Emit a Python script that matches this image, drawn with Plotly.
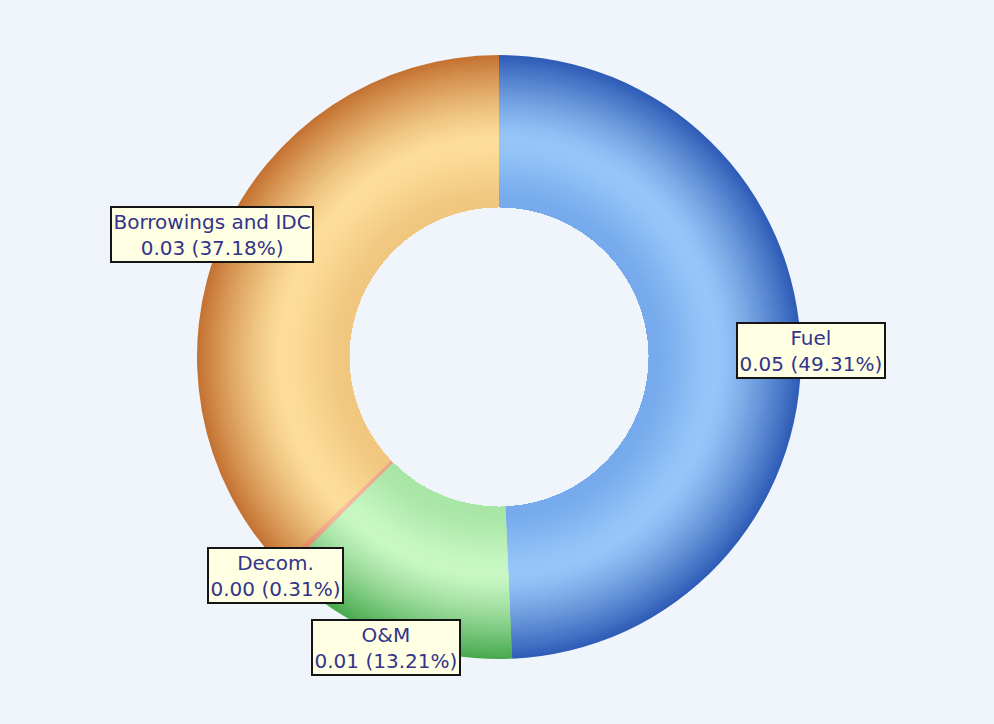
import numpy as np
import plotly.graph_objects as go

# ---- data -------------------------------------------------------------
categories = ["Fuel", "O&M", "Decom.", "Borrowings and IDC"]
cost_values = [0.05, 0.01, 0.00, 0.03]
cost_shares = [49.31, 13.21, 0.31, 37.18]

# ring shading per category: inner edge, brightest band, outer edge
inner_colors = ["#76AAEC", "#A8E6A6", "#EBA386", "#F1C77F"]
peak_colors = ["#96C6F8", "#C8F7C4", "#F6BCA0", "#FCDD99"]
outer_colors = ["#2E5BB6", "#47A84D", "#D2603F", "#C47131"]

# ---- geometry (pixels) ------------------------------------------------
W, H = 994, 724
CX, CY = 499, 357
R_OUT, R_IN = 302, 150
LABEL_R = 312
N_BANDS = 60
PEAK_T = 0.45


def hex_rgb(h):
    h = h.lstrip("#")
    return np.array([int(h[i:i + 2], 16) for i in (0, 2, 4)], dtype=float)


def mix(a, b, f):
    c = hex_rgb(a) * (1 - f) + hex_rgb(b) * f
    return "rgb(%d,%d,%d)" % tuple(np.clip(np.round(c), 0, 255))


def shade(i, t):
    if t <= PEAK_T:
        s = t / PEAK_T
        s = s * s * (3 - 2 * s)
        return mix(inner_colors[i], peak_colors[i], s)
    s = (t - PEAK_T) / (1 - PEAK_T)
    return mix(peak_colors[i], outer_colors[i], s ** 1.3)


fig = go.Figure()

# concentric bands, outermost first, each painted over the inner part of the
# previous one to give the ring its cylindrical shading
radii = np.linspace(R_OUT, R_IN, N_BANDS + 1)
for k in range(N_BANDS):
    r_k = radii[k]
    t_mid = ((radii[k] + radii[k + 1]) / 2 - R_IN) / (R_OUT - R_IN)
    cols = [shade(i, t_mid) for i in range(len(categories))]
    fig.add_trace(go.Pie(
        labels=categories,
        values=cost_shares,
        customdata=cost_values,
        sort=False,
        direction="clockwise",
        rotation=0,
        hole=R_IN / r_k,
        domain=dict(x=[(CX - r_k) / W, (CX + r_k) / W],
                    y=[(H - CY - r_k) / H, (H - CY + r_k) / H]),
        marker=dict(colors=cols, line=dict(width=0)),
        textinfo="none",
        hoverinfo="skip" if k else "label+percent",
        showlegend=False,
    ))

# boxed value labels placed just outside each slice's mid-angle
annotations = []
cum = 0.0
for name, val, share in zip(categories, cost_values, cost_shares):
    theta = 2 * np.pi * (cum + share / 2) / 100.0
    cum += share
    px = CX + LABEL_R * np.sin(theta)
    py = CY - LABEL_R * np.cos(theta)
    annotations.append(dict(
        x=px / W, y=1 - py / H, xref="paper", yref="paper",
        xanchor="center", yanchor="middle", showarrow=False,
        text=f"{name}<br>{val:.2f} ({share:.2f}%)",
        align="center",
        font=dict(family="DejaVu Sans", size=20, color="#34348A"),
        bgcolor="#FFFFE4", bordercolor="#151515", borderwidth=2,
        borderpad=1.5,
    ))

fig.update_layout(
    width=W, height=H,
    margin=dict(l=0, r=0, t=0, b=0),
    paper_bgcolor="#EFF5FB",
    plot_bgcolor="#EFF5FB",
    annotations=annotations,
    showlegend=False,
)

fig.write_html("out.html")
